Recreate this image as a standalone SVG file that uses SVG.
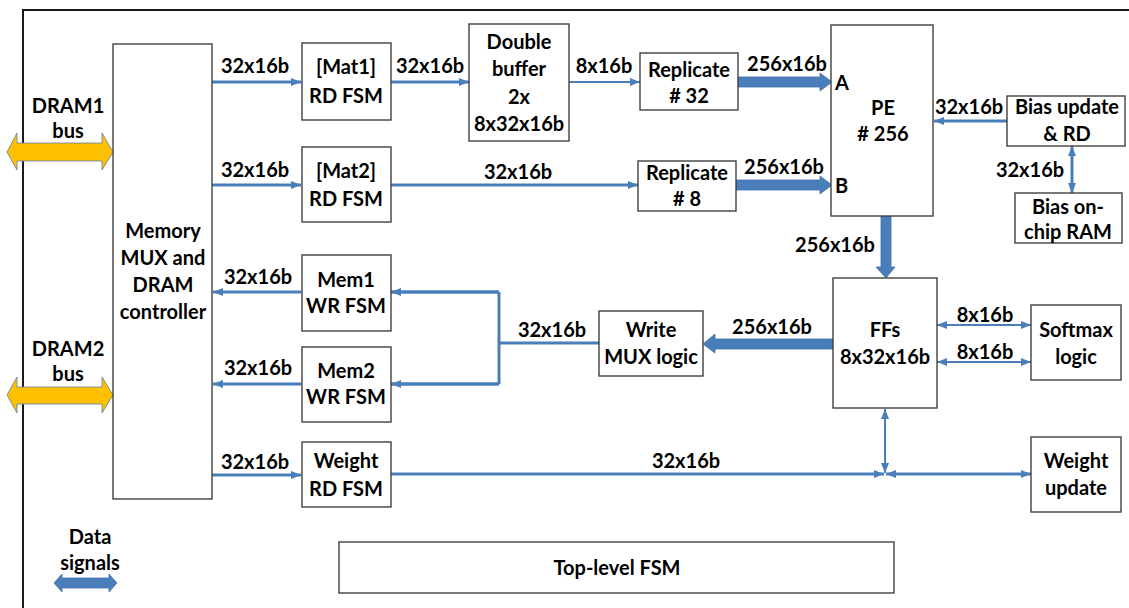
<svg xmlns="http://www.w3.org/2000/svg" width="1129" height="608" viewBox="0 0 1129 608">
<defs>
<style>
.box{fill:#fff;stroke:#404040;stroke-width:1.4}
.t{font-family:Lato,"Liberation Sans",sans-serif;font-weight:bold;font-size:20px;fill:#000;text-anchor:middle}
.tl{text-anchor:start}
.w{fill:none;stroke:#4a7ebb;stroke-width:3}
.w2{fill:none;stroke:#4a7ebb;stroke-width:2}
.thick{fill:#4a7ebb;stroke:#3f6fa8;stroke-width:0.8}
.bus{fill:#ffc000;stroke:#5b7fa8;stroke-width:0.8}
</style>
<marker id="ah" viewBox="0 0 10 8" refX="10" refY="4" markerWidth="10" markerHeight="8" markerUnits="userSpaceOnUse" orient="auto-start-reverse">
<path d="M0,0 L10,4 L0,8 z" fill="#4a7ebb"/>
</marker>
</defs>
<rect width="1129" height="608" fill="#fff"/>
<path d="M23,608 V10 H1129" fill="none" stroke="#1a1a1a" stroke-width="2"/>

<g id="connectors">
<line class="w" x1="212" y1="82" x2="301" y2="82" marker-end="url(#ah)"/>
<line class="w" x1="212" y1="185" x2="301" y2="185" marker-end="url(#ah)"/>
<line class="w" x1="301" y1="292" x2="213" y2="292" marker-end="url(#ah)"/>
<line class="w" x1="301" y1="384" x2="213" y2="384" marker-end="url(#ah)"/>
<line class="w" x1="212" y1="475" x2="301" y2="475" marker-end="url(#ah)"/>
<line class="w" x1="391" y1="82" x2="469" y2="82" marker-end="url(#ah)"/>
<line class="w2" x1="569" y1="82" x2="640" y2="82" marker-end="url(#ah)"/>
<line class="w" x1="391" y1="185" x2="638" y2="185" marker-end="url(#ah)"/>
<polygon class="thick" points="738,77 820,77 820,73 832,82 820,91 820,87 738,87"/>
<polygon class="thick" points="736,180 820,180 820,176 832,185 820,194 820,190 736,190"/>
<line class="w" x1="1007" y1="121" x2="934" y2="121" marker-end="url(#ah)"/>
<line class="w" x1="1072" y1="146" x2="1072" y2="193" marker-start="url(#ah)" marker-end="url(#ah)"/>
<polygon class="thick" points="881,216 891,216 891,267 895,267 886,278 876,267 881,267"/>
<polygon class="thick" points="833,339 715,339 715,334 703,344 715,353 715,349 833,349"/>
<path class="w" d="M599,343 H499 M499,292 V384 M499,292 H391 M499,384 H391" />
<line class="w" x1="499" y1="292" x2="391" y2="292" marker-end="url(#ah)"/>
<line class="w" x1="499" y1="384" x2="391" y2="384" marker-end="url(#ah)"/>
<line class="w2" x1="937" y1="325" x2="1031" y2="325" marker-start="url(#ah)" marker-end="url(#ah)"/>
<line class="w2" x1="937" y1="362" x2="1031" y2="362" marker-start="url(#ah)" marker-end="url(#ah)"/>
<line class="w2" x1="885" y1="409" x2="885" y2="473" marker-start="url(#ah)" marker-end="url(#ah)"/>
<line class="w" x1="391" y1="474" x2="884" y2="474" marker-end="url(#ah)"/>
<line class="w" x1="886" y1="474" x2="1031" y2="474" marker-start="url(#ah)" marker-end="url(#ah)"/>
</g>

<g id="labels">
<text class="t" x="255" y="73">32x16b</text>
<text class="t" x="430" y="73">32x16b</text>
<text class="t" x="604" y="73">8x16b</text>
<text class="t" x="787" y="71">256x16b</text>
<text class="t" x="255" y="177">32x16b</text>
<text class="t" x="518" y="179">32x16b</text>
<text class="t" x="784" y="174">256x16b</text>
<text class="t" x="258" y="284">32x16b</text>
<text class="t" x="258" y="375">32x16b</text>
<text class="t" x="255" y="469">32x16b</text>
<text class="t" x="686" y="468">32x16b</text>
<text class="t" x="969" y="114">32x16b</text>
<text class="t" x="1030" y="177">32x16b</text>
<text class="t" x="835" y="252">256x16b</text>
<text class="t" x="552" y="337">32x16b</text>
<text class="t" x="772" y="334">256x16b</text>
<text class="t" x="985" y="322">8x16b</text>
<text class="t" x="985" y="359">8x16b</text>
</g>

<g id="dram1">
<polygon class="bus" points="7,152 17,133 17,143 102,143 102,133 113,152 102,170 102,161 17,161 17,170"/>
<text class="t" x="68" y="113">DRAM1</text>
<text class="t" x="68" y="138">bus</text>
</g>
<g id="dram2">
<polygon class="bus" points="7,395 17,377 17,387 102,387 102,377 113,395 102,413 102,404 17,404 17,413"/>
<text class="t" x="68" y="356">DRAM2</text>
<text class="t" x="68" y="381">bus</text>
</g>

<g id="memmux">
<rect class="box" x="113" y="44" width="99" height="455"/>
<text class="t" x="163" y="238">Memory</text>
<text class="t" x="163" y="265">MUX and</text>
<text class="t" x="163" y="292">DRAM</text>
<text class="t" x="163" y="319">controller</text>
</g>
<g id="mat1">
<rect class="box" x="302" y="43" width="89" height="77"/>
<text class="t" x="346" y="74">[Mat1]</text>
<text class="t" x="346" y="103">RD FSM</text>
</g>
<g id="mat2">
<rect class="box" x="302" y="147" width="89" height="75"/>
<text class="t" x="346" y="178">[Mat2]</text>
<text class="t" x="346" y="206">RD FSM</text>
</g>
<g id="mem1">
<rect class="box" x="302" y="255" width="89" height="76"/>
<text class="t" x="346" y="287">Mem1</text>
<text class="t" x="346" y="313">WR FSM</text>
</g>
<g id="mem2">
<rect class="box" x="302" y="347" width="89" height="75"/>
<text class="t" x="346" y="378">Mem2</text>
<text class="t" x="346" y="404">WR FSM</text>
</g>
<g id="weightrd">
<rect class="box" x="302" y="442" width="89" height="65"/>
<text class="t" x="346" y="468">Weight</text>
<text class="t" x="346" y="496">RD FSM</text>
</g>
<g id="dbuf">
<rect class="box" x="469" y="24" width="100" height="117"/>
<text class="t" x="519" y="49">Double</text>
<text class="t" x="519" y="76">buffer</text>
<text class="t" x="519" y="104">2x</text>
<text class="t" x="519" y="131">8x32x16b</text>
</g>
<g id="rep32">
<rect class="box" x="640" y="53" width="98" height="57"/>
<text class="t" x="689" y="77">Replicate</text>
<text class="t" x="689" y="103"># 32</text>
</g>
<g id="rep8">
<rect class="box" x="638" y="161" width="98" height="50"/>
<text class="t" x="687" y="180">Replicate</text>
<text class="t" x="687" y="206"># 8</text>
</g>
<g id="pe">
<rect class="box" x="831" y="25" width="102" height="191"/>
<text class="t tl" x="835" y="90">A</text>
<text class="t tl" x="835" y="193">B</text>
<text class="t" x="883" y="115">PE</text>
<text class="t" x="883" y="141"># 256</text>
</g>
<g id="biasupd">
<rect class="box" x="1007" y="96" width="118" height="50"/>
<text class="t" x="1067" y="114">Bias update</text>
<text class="t" x="1067" y="141">&amp; RD</text>
</g>
<g id="biasram">
<rect class="box" x="1015" y="193" width="107" height="50"/>
<text class="t" x="1068" y="214">Bias on-</text>
<text class="t" x="1068" y="239">chip RAM</text>
</g>
<g id="writemux">
<rect class="box" x="599" y="311" width="104" height="65"/>
<text class="t" x="651" y="337">Write</text>
<text class="t" x="651" y="364">MUX logic</text>
</g>
<g id="ffs">
<rect class="box" x="833" y="278" width="104" height="130"/>
<text class="t" x="885" y="337">FFs</text>
<text class="t" x="885" y="364">8x32x16b</text>
</g>
<g id="softmax">
<rect class="box" x="1031" y="305" width="90" height="75"/>
<text class="t" x="1076" y="337">Softmax</text>
<text class="t" x="1076" y="364">logic</text>
</g>
<g id="weightupd">
<rect class="box" x="1031" y="437" width="90" height="75"/>
<text class="t" x="1076" y="468">Weight</text>
<text class="t" x="1076" y="495">update</text>
</g>
<g id="toplevel">
<rect class="box" x="339" y="542" width="555" height="51"/>
<text class="t" x="617" y="575">Top-level FSM</text>
</g>
<g id="legend">
<text class="t" x="90" y="544">Data</text>
<text class="t" x="90" y="570">signals</text>
<polygon class="thick" points="54,583 62,574 62,578 109,578 109,574 117,583 109,592 109,588 62,588 62,592"/>
</g>
</svg>
